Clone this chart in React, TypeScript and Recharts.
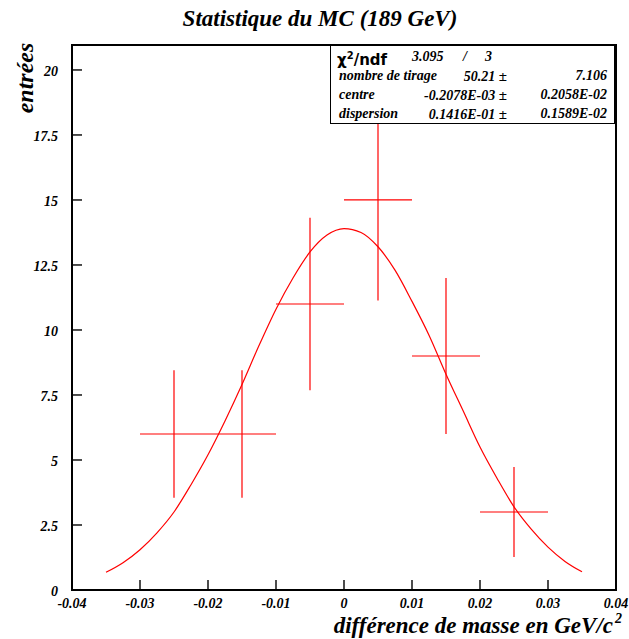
import { ComposedChart, Line, Scatter, ErrorBar, XAxis, YAxis } from 'recharts';

// histogram bins: centre, entries, half bin width, error
const binCentres = [-0.025, -0.015, -0.005, 0.005, 0.015, 0.025];
const binEntries = [6, 6, 11, 15, 9, 3];
const binHalfWidths = [0.005, 0.005, 0.005, 0.005, 0.005, 0.005];
const binErrors = [2.45, 2.45, 3.32, 3.87, 3.0, 1.73];

// fitted gaussian
const fitX = [
  -0.035, -0.0325, -0.03, -0.0275, -0.025, -0.0225, -0.02, -0.0175, -0.015, -0.0125, -0.01, -0.0075, -0.005,
  -0.0025, 0, 0.0025, 0.005, 0.0075, 0.01, 0.0125, 0.015, 0.0175, 0.02, 0.0225, 0.025, 0.0275, 0.03, 0.0325, 0.035,
];
const fitY = [
  0.68, 1.05, 1.55, 2.2, 3.0, 4.05, 5.2, 6.5, 7.9, 9.4, 10.8, 12.0, 13.0, 13.65, 13.9, 13.75, 13.2, 12.3, 11.1,
  9.8, 8.3, 6.9, 5.5, 4.3, 3.2, 2.35, 1.65, 1.1, 0.7,
];

const xMajorTicks = [-0.04, -0.03, -0.02, -0.01, 0, 0.01, 0.02, 0.03, 0.04];
const xMajorLabels = ['-0.04', '-0.03', '-0.02', '-0.01', '0', '0.01', '0.02', '0.03', '0.04'];
const yMajorTicks = [0, 2.5, 5, 7.5, 10, 12.5, 15, 17.5, 20];
const yMajorLabels = ['0', '2.5', '5', '7.5', '10', '12.5', '15', '17.5', '20'];

const X_DOMAIN: [number, number] = [-0.04, 0.04];
const Y_DOMAIN: [number, number] = [0, 20.96];

// minor ticks (4 per x division, 5 per y division)
const xMinorTicks = Array.from({ length: 33 }, (_, i) => (-400 + i * 25) / 10000);
const yMinorTicks = Array.from({ length: 42 }, (_, i) => i * 0.5);

const bins = binCentres.map((x, i) => ({ x, y: binEntries[i], ex: binHalfWidths[i], ey: binErrors[i] }));
const fitCurve = fitX.map((x, i) => ({ x, y: fitY[i] }));

const FONT = '"Liberation Serif", "DejaVu Serif", serif';
const RED = '#ff0000';
const TICK_LINE = { stroke: '#000', strokeWidth: 1.4 };

const majorIndex = (v: number, majors: number[]) => majors.findIndex((m) => Math.abs(m - v) < 1e-9);

// tick lines point inwards (negative tickSize), so the label is pushed back out
const XTickLabel = (props: any) => {
  const idx = majorIndex(props.payload.value, xMajorTicks);
  if (idx < 0) return <g />;
  return (
    <text x={props.x} y={props.y + 28} textAnchor="middle" fontFamily={FONT} fontWeight="bold" fontStyle="italic" fontSize={14} fill="#000">
      {xMajorLabels[idx]}
    </text>
  );
};

const YTickLabel = (props: any) => {
  const idx = majorIndex(props.payload.value, yMajorTicks);
  if (idx < 0) return <g />;
  return (
    <text x={props.x - 24} y={props.y + 6} textAnchor="end" fontFamily={FONT} fontWeight="bold" fontStyle="italic" fontSize={14} fill="#000">
      {yMajorLabels[idx]}
    </text>
  );
};

const statText: React.CSSProperties = {
  position: 'absolute',
  fontFamily: FONT,
  fontWeight: 'bold',
  fontStyle: 'italic',
  fontSize: 14,
  whiteSpace: 'nowrap',
  lineHeight: '16px',
};

const statRows = [
  { label: 'nombre de tirage', value: '50.21', error: '7.106' },
  { label: 'centre', value: '-0.2078E-03', error: '0.2058E-02' },
  { label: 'dispersion', value: '0.1416E-01', error: '0.1589E-02' },
];

const App = () => {
  return (
    <div style={{ position: 'absolute', left: 0, top: 0, width: 629, height: 639, background: '#fff' }}>
      <ComposedChart width={629} height={639} margin={{ top: 45, right: 13, bottom: 47, left: 70 }}>
        <XAxis
          type="number"
          dataKey="x"
          domain={X_DOMAIN}
          ticks={xMajorTicks}
          interval={0}
          allowDataOverflow
          height={1}
          tickSize={-10}
          tickMargin={0}
          tickLine={TICK_LINE}
          axisLine={false}
          tick={<XTickLabel />}
        />
        <XAxis
          xAxisId="minor"
          type="number"
          dataKey="x"
          domain={X_DOMAIN}
          ticks={xMinorTicks}
          interval={0}
          allowDataOverflow
          height={1}
          tickSize={-5}
          tickMargin={0}
          tickLine={TICK_LINE}
          axisLine={false}
          tick={false}
        />
        <YAxis
          type="number"
          domain={Y_DOMAIN}
          ticks={yMajorTicks}
          interval={0}
          allowDataOverflow
          width={1}
          tickSize={-10}
          tickMargin={0}
          tickLine={TICK_LINE}
          axisLine={false}
          tick={<YTickLabel />}
        />
        <YAxis
          yAxisId="minor"
          type="number"
          domain={Y_DOMAIN}
          ticks={yMinorTicks}
          interval={0}
          allowDataOverflow
          width={1}
          tickSize={-5}
          tickMargin={0}
          tickLine={TICK_LINE}
          axisLine={false}
          tick={false}
        />
        <Line
          data={fitCurve}
          dataKey="y"
          type="monotone"
          stroke={RED}
          strokeWidth={1.2}
          dot={false}
          activeDot={false}
          isAnimationActive={false}
        />
        <Scatter data={bins} dataKey="y" fill={RED} shape={() => <g />} isAnimationActive={false}>
          <ErrorBar dataKey="ex" direction="x" width={0} stroke={RED} strokeWidth={1.2} isAnimationActive={false} />
          <ErrorBar dataKey="ey" direction="y" width={0} stroke={RED} strokeWidth={1.2} isAnimationActive={false} />
        </Scatter>
      </ComposedChart>

      {/* plot frame */}
      <div
        style={{
          position: 'absolute',
          left: 71,
          top: 44,
          width: 546,
          height: 547,
          border: '2px solid #000',
          boxSizing: 'border-box',
          pointerEvents: 'none',
        }}
      />

      <div
        style={{
          position: 'absolute',
          left: 0,
          top: 6,
          width: 640,
          textAlign: 'center',
          fontFamily: FONT,
          fontWeight: 'bold',
          fontStyle: 'italic',
          fontSize: 23,
        }}
      >
        Statistique du MC (189 GeV)
      </div>

      <div
        style={{
          position: 'absolute',
          left: 25,
          top: 78,
          transform: 'translate(-50%, -50%) rotate(-90deg)',
          fontFamily: FONT,
          fontWeight: 'bold',
          fontStyle: 'italic',
          fontSize: 24,
          whiteSpace: 'nowrap',
        }}
      >
        entrées
      </div>

      <div
        style={{
          position: 'absolute',
          right: 16,
          top: 613,
          fontFamily: FONT,
          fontWeight: 'bold',
          fontStyle: 'italic',
          fontSize: 23,
          lineHeight: '26px',
          whiteSpace: 'nowrap',
        }}
      >
        différence de masse en GeV/c
        <span style={{ position: 'absolute', right: -9, top: -1, fontSize: 14, lineHeight: '14px' }}>2</span>
      </div>

      <div
        style={{
          position: 'absolute',
          left: 330,
          top: 45,
          width: 285,
          height: 79,
          border: '1px solid #000',
          background: '#fff',
          boxSizing: 'border-box',
        }}
      >
        <span style={{ ...statText, left: 6, top: 2, fontFamily: '"DejaVu Sans", sans-serif', fontStyle: 'normal', fontSize: 15 }}>
          χ<sup style={{ fontSize: 10 }}>2</sup>/ndf
        </span>
        <span style={{ ...statText, left: 81, top: 3 }}>3.095</span>
        <span style={{ ...statText, left: 132, top: 3 }}>/</span>
        <span style={{ ...statText, left: 154, top: 3 }}>3</span>
        {statRows.map((row, i) => (
          <div key={row.label}>
            <span style={{ ...statText, left: 8, top: 22 + i * 19 }}>{row.label}</span>
            <span style={{ ...statText, right: 107, top: 22 + i * 19 }}>
              {row.value} <span style={{ fontStyle: 'normal', fontSize: 15 }}>±</span>
            </span>
            <span style={{ ...statText, right: 7, top: 22 + i * 19 }}>{row.error}</span>
          </div>
        ))}
      </div>
    </div>
  );
};

export default App;
